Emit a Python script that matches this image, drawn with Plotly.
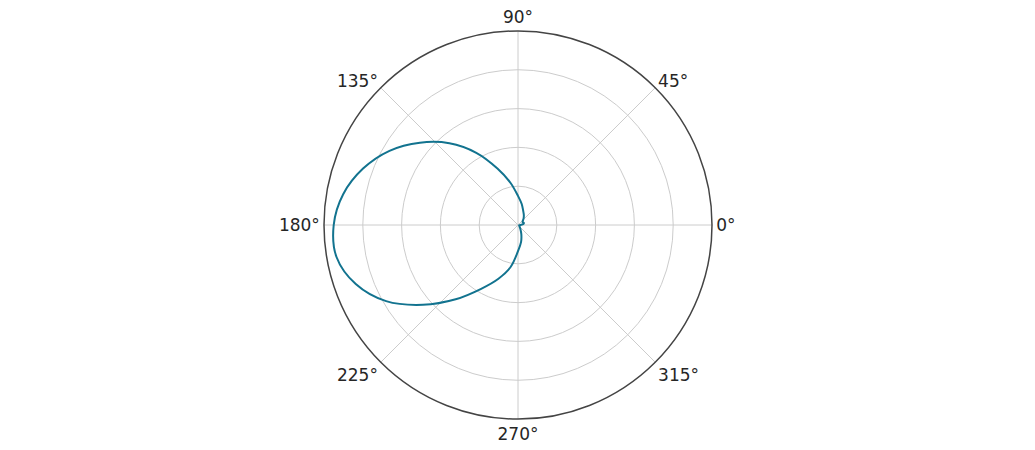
import plotly.graph_objects as go

# Angles (degrees) and normalized response
theta_deg = [0, 10, 20, 30, 40, 50, 60, 70, 80, 90, 100, 110, 120, 130, 140, 150,
             160, 170, 180, 190, 200, 210, 220, 230, 240, 250, 260, 270, 280, 290,
             300, 310, 320, 330, 340, 350, 360]
r_values = [0.012, 0.028, 0.032, 0.028, 0.032, 0.045, 0.06, 0.078, 0.11, 0.15, 0.22,
            0.31, 0.43, 0.55, 0.66, 0.765, 0.85, 0.915, 0.95, 0.95, 0.89, 0.785,
            0.64, 0.50, 0.38, 0.295, 0.22, 0.135, 0.09, 0.05, 0.025, 0.014, 0.01,
            0.008, 0.006, 0.008, 0.012]

angle_ticks = [0, 45, 90, 135, 180, 225, 270, 315]
angle_labels = ["0°", "45°", "90°", "135°", "180°", "225°", "270°", "315°"]
radial_ticks = [0.2, 0.4, 0.6, 0.8, 1.0]

fig = go.Figure()
fig.add_trace(go.Scatterpolar(
    r=r_values, theta=theta_deg, mode="lines",
    line=dict(color="#12738f", width=2, shape="spline", smoothing=1.0),
    showlegend=False, hoverinfo="skip",
))

fig.update_layout(
    width=1035, height=450,
    margin=dict(l=0, r=15, t=23, b=39),
    paper_bgcolor="white",
    font=dict(family="DejaVu Sans, sans-serif", size=17, color="#262626"),
    polar=dict(
        bgcolor="white",
        radialaxis=dict(range=[0, 1], tickvals=radial_ticks, showticklabels=False,
                        ticks="", showline=False, gridcolor="#cccccc", gridwidth=1),
        angularaxis=dict(tickvals=angle_ticks, ticktext=angle_labels, direction="counterclockwise",
                         rotation=0, ticks="", showline=True, linecolor="#444", linewidth=1.5,
                         gridcolor="#cccccc", gridwidth=1),
    ),
)

fig.write_html("out.html")
